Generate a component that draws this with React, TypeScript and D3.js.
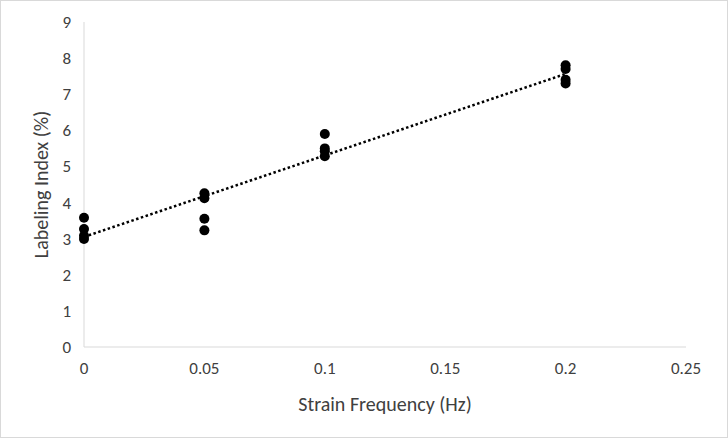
import React from "react";
import * as d3 from "d3";

const xGroups = [0, 0.05, 0.1, 0.2];
const seriesByGroup: number[][] = [
  [3.58, 3.27, 3.08, 2.99],
  [4.26, 4.12, 3.55, 3.23],
  [5.9, 5.5, 5.42, 5.28],
  [7.8, 7.7, 7.4, 7.3],
];
const xTicks = [0, 0.05, 0.1, 0.15, 0.2, 0.25];
const xTickLabels = ["0", "0.05", "0.1", "0.15", "0.2", "0.25"];
const yTicks = [0, 1, 2, 3, 4, 5, 6, 7, 8, 9];
const xTitle = "Strain Frequency (Hz)";
const yTitle = "Labeling Index (%)";

const W = 728;
const H = 438;
const font = "Calibri, Carlito, 'Open Sans', sans-serif";

export default function App() {
  const x = d3.scaleLinear().domain([0, 0.25]).range([84, 686]);
  const y = d3.scaleLinear().domain([0, 9]).range([347, 22]);

  const points: { x: number; y: number }[] = [];
  xGroups.forEach((g, i) => seriesByGroup[i].forEach((v) => points.push({ x: g, y: v })));

  const mx = d3.mean(points, (p) => p.x)!;
  const my = d3.mean(points, (p) => p.y)!;
  const sxy = d3.sum(points, (p) => (p.x - mx) * (p.y - my));
  const sxx = d3.sum(points, (p) => (p.x - mx) ** 2);
  const slope = sxy / sxx;
  const intercept = my - slope * mx;
  const xmin = d3.min(points, (p) => p.x)!;
  const xmax = d3.max(points, (p) => p.x)!;
  const line = d3
    .line<number>()
    .x((d) => x(d))
    .y((d) => y(intercept + slope * d));

  return (
    <svg
      width={W}
      height={H}
      style={{ position: "absolute", left: 0, top: 0, background: "#fff" }}
      fontFamily={font}
    >
      <rect x={0.5} y={0.5} width={W - 1} height={H - 1} fill="#fff" stroke="#d9d9d9" />
      <line x1={x(0)} x2={x(0.25)} y1={y(0)} y2={y(0)} stroke="#d9d9d9" strokeWidth={1} />
      <line x1={x(0)} x2={x(0)} y1={y(0)} y2={y(9)} stroke="#d9d9d9" strokeWidth={1} />
      {yTicks.map((t) => (
        <text key={t} x={x(0) - 13} y={y(t)} dy="0.35em" textAnchor="end" fontSize={17} fill="#404040">
          {t}
        </text>
      ))}
      {xTicks.map((t, i) => (
        <text key={t} x={x(t)} y={y(0) + 27} textAnchor="middle" fontSize={17} fill="#404040">
          {xTickLabels[i]}
        </text>
      ))}
      <text x={385} y={411} textAnchor="middle" fontSize={20} fill="#404040">
        {xTitle}
      </text>
      <text
        transform={`translate(48,${(y(0) + y(9)) / 2}) rotate(-90)`}
        textAnchor="middle"
        fontSize={20}
        fill="#404040"
      >
        {yTitle}
      </text>
      {points.map((p, i) => (
        <circle key={i} cx={x(p.x)} cy={y(p.y)} r={5} fill="#000" />
      ))}
      <path d={line([xmin, xmax])!} fill="none" stroke="#000" strokeWidth={2.5} strokeDasharray="2.5,2.5" />
    </svg>
  );
}
